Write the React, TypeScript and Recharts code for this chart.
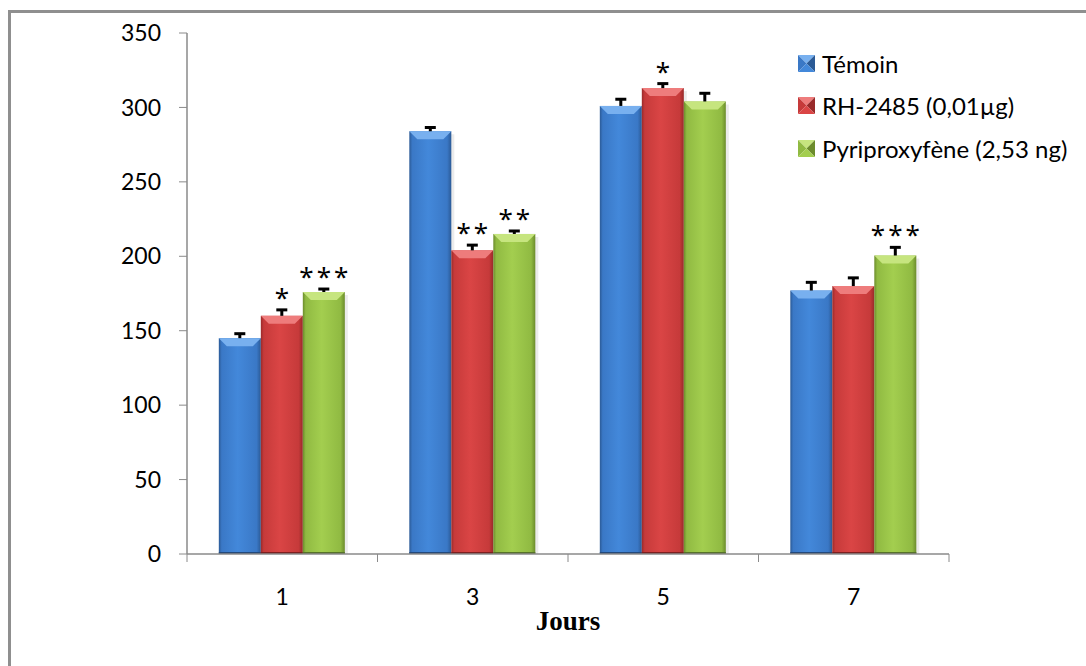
import React from 'react';
import { BarChart, Bar, XAxis, YAxis } from 'recharts';

const days = ['1', '3', '5', '7'];
const temoin = [145, 284, 301, 177];
const rh2485 = [160, 204, 313, 180];
const pyriproxyfene = [176, 215, 304, 200.5];
const temoinErr = [3, 2.5, 4.5, 5.5];
const rh2485Err = [4, 3.5, 3, 5.5];
const pyriproxyfeneErr = [2, 2, 5.5, 5.5];
const temoinSig = ['', '', '', ''];
const rh2485Sig = ['*', '**', '*', ''];
const pyriproxyfeneSig = ['***', '**', '', '***'];
const yTicks = [0, 50, 100, 150, 200, 250, 300, 350];

const data = days.map((day, i) => ({
  day,
  temoin: temoin[i],
  temoinErr: temoinErr[i],
  temoinSig: temoinSig[i],
  rh: rh2485[i],
  rhErr: rh2485Err[i],
  rhSig: rh2485Sig[i],
  pyri: pyriproxyfene[i],
  pyriErr: pyriproxyfeneErr[i],
  pyriSig: pyriproxyfeneSig[i],
}));

const palettes = {
  blue: { edge: '#2b5a96', mid: '#3a78c6', light: '#4388da', top: '#78b0ef', bottom: '#24497a' },
  red: { edge: '#992a2a', mid: '#c63a3a', light: '#da4545', top: '#ee7c7c', bottom: '#7c2020' },
  green: { edge: '#6c8c2c', mid: '#90ba42', light: '#a3ce4f', top: '#c6e57f', bottom: '#57722a' },
};

const AXIS = '#8a8a8a';
const FONT = 'Lato, "Open Sans", sans-serif';

type Palette = typeof palettes.blue;

// beveled "3D" bar with the upper error bar and the significance stars
const makeShape = (pal: Palette, key: string, id: string) => (props: any) => {
  const { x, y, width, height, payload, index } = props;
  if (!height || height <= 0) return null;
  const errPx = (payload[key + 'Err'] * height) / payload[key];
  const sig = payload[key + 'Sig'];
  const b = Math.min(8, width / 4);
  const cx = x + width / 2;
  const gid = `${id}-${index}`;
  const capY = y - errPx;
  return (
    <g>
      <defs>
        <linearGradient id={gid} x1="0" y1="0" x2="1" y2="0">
          <stop offset="0" stopColor={pal.edge} />
          <stop offset="0.07" stopColor={pal.mid} />
          <stop offset="0.45" stopColor={pal.light} />
          <stop offset="0.9" stopColor={pal.mid} />
          <stop offset="1" stopColor={pal.edge} />
        </linearGradient>
      </defs>
      <rect x={x + 3} y={y + 3} width={width} height={height - 3} fill="#000" opacity={0.08} />
      <rect x={x} y={y} width={width} height={height} fill={`url(#${gid})`} />
      <polygon
        points={`${x},${y} ${x + width},${y} ${x + width - b},${y + b} ${x + b},${y + b}`}
        fill={pal.top}
      />
      <rect x={x} y={y + height - 2} width={width} height={2} fill={pal.bottom} />
      <line x1={cx} y1={y} x2={cx} y2={capY} stroke="#000" strokeWidth={3} />
      <line x1={cx - 5.5} y1={capY} x2={cx + 5.5} y2={capY} stroke="#000" strokeWidth={3} />
      {sig ? (
        <text
          x={cx + 1.5}
          y={capY - 3}
          textAnchor="middle"
          fontFamily='"Noto Sans", sans-serif'
          fontSize={26}
          letterSpacing={3}
          fill="#000"
        >
          {sig}
        </text>
      ) : null}
    </g>
  );
};

const series = [
  { key: 'temoin', name: 'Témoin', pal: palettes.blue },
  { key: 'rh', name: 'RH-2485 (0,01µg)', pal: palettes.red },
  { key: 'pyri', name: 'Pyriproxyfène (2,53 ng)', pal: palettes.green },
];

const LegendIcon = ({ pal }: { pal: Palette }) => (
  <svg width={17} height={17} style={{ display: 'block' }}>
    <polygon points="0,0 17,0 8.5,8.5" fill={pal.top} />
    <polygon points="0,0 0,17 8.5,8.5" fill={pal.mid} />
    <polygon points="17,0 17,17 8.5,8.5" fill={pal.edge} />
    <polygon points="0,17 17,17 8.5,8.5" fill={pal.light} />
  </svg>
);

// Excel-style x ticks: tick marks on category boundaries, label in the middle
const XTick = (props: any) => {
  const { x, y, payload, index, visibleTicksCount } = props;
  const half = payload.offset || 0;
  const axisY = y - 8 - 27;
  return (
    <g>
      <line x1={x - half} y1={axisY} x2={x - half} y2={axisY + 8} stroke={AXIS} />
      {index === visibleTicksCount - 1 ? (
        <line x1={x + half} y1={axisY} x2={x + half} y2={axisY + 8} stroke={AXIS} />
      ) : null}
      <text x={x} y={y} dy="0.71em" textAnchor="middle" fontFamily={FONT} fontSize={23} fill="#000">
        {payload.value}
      </text>
    </g>
  );
};

export default function App() {
  return (
    <div
      style={{
        position: 'absolute',
        left: 0,
        top: 0,
        width: 1086,
        height: 666,
        overflow: 'hidden',
        background: '#fff',
      }}
    >
      <div
        style={{
          position: 'absolute',
          left: 8,
          top: 10,
          width: 1200,
          height: 800,
          border: '3px solid #8f8f8f',
        }}
      />
      <div style={{ position: 'absolute', left: 0, top: 0 }}>
        <BarChart
          width={1086}
          height={666}
          data={data}
          margin={{ top: 33, right: 137, bottom: 72, left: 107 }}
          barCategoryGap="16.7%"
          barGap={0}
        >
          <XAxis
            dataKey="day"
            height={40}
            axisLine={{ stroke: AXIS, strokeWidth: 1.5 }}
            tickLine={false}
            tickSize={8}
            tickMargin={27}
            tick={<XTick />}
            interval={0}
            label={{
              value: 'Jours',
              position: 'bottom',
              offset: 17,
              style: { fontFamily: '"Liberation Serif", serif', fontWeight: 700, fontSize: 27, fill: '#000' },
            }}
          />
          <YAxis
            width={80}
            domain={[0, 350]}
            ticks={yTicks}
            interval={0}
            axisLine={{ stroke: AXIS, strokeWidth: 1.5 }}
            tickLine={{ stroke: AXIS }}
            tickSize={8}
            tickMargin={18}
            tick={{ fontFamily: FONT, fontSize: 23, fill: '#000' }}
          />
          {series.map((s) => (
            <Bar
              key={s.key}
              dataKey={s.key}
              name={s.name}
              fill={s.pal.mid}
              shape={makeShape(s.pal, s.key, s.key)}
              isAnimationActive={false}
            />
          ))}
        </BarChart>
      </div>
      <div
        style={{
          position: 'absolute',
          left: 798,
          top: 42,
          fontFamily: FONT,
          fontSize: 24,
          color: '#000',
        }}
      >
        {series.map((s) => (
          <div key={s.key} style={{ display: 'flex', alignItems: 'center', height: 42.5 }}>
            <LegendIcon pal={s.pal} />
            <span style={{ marginLeft: 7, whiteSpace: 'nowrap' }}>{s.name}</span>
          </div>
        ))}
      </div>
    </div>
  );
}
